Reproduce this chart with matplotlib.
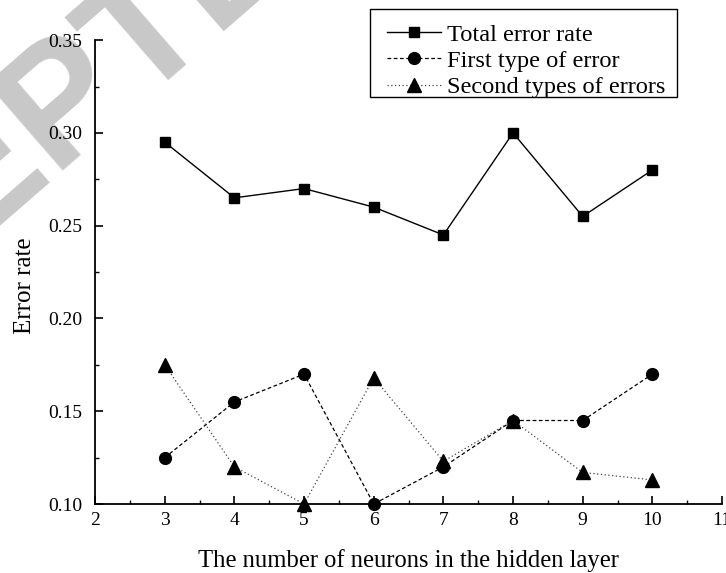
import matplotlib.pyplot as plt
from matplotlib.patches import Rectangle
from matplotlib.ticker import MultipleLocator

# Кількість нейронів у прихованому шарі
neurons = [3, 4, 5, 6, 7, 8, 9, 10]

# Частота помилок для кожної конфігурації
total_error = [0.295, 0.265, 0.27, 0.26, 0.245, 0.30, 0.255, 0.28]
first_error = [0.125, 0.155, 0.17, 0.10, 0.12, 0.145, 0.145, 0.17]
second_error = [0.175, 0.12, 0.10, 0.168, 0.123, 0.145, 0.117, 0.113]

plt.rcParams['font.family'] = ['Liberation Serif', 'DejaVu Serif']

fig = plt.figure(figsize=(7.26, 5.73), dpi=100)
ax = fig.add_axes([0.131, 0.1204, 0.8635, 0.8096])
ax.patch.set_alpha(0)

# Водяний знак
fig.text(0.022, 0.735, 'ACCEPTED', family='Liberation Sans', fontweight='bold',
         fontsize=120, color='#c8c8c8', rotation=41, ha='center', va='center',
         rotation_mode='anchor', zorder=-5)

ax.plot(neurons, total_error, color='black', lw=1.0, marker='s', ms=7,
        label='Total error rate', clip_on=False, zorder=3)
ax.plot(neurons, first_error, color='black', lw=0.9, ls=(0, (3, 2)), marker='o', ms=8.5,
        label='First type of error', clip_on=False, zorder=3)
ax.plot(neurons, second_error, color='#444444', lw=0.9, ls=(0, (1, 2)), marker='^', ms=10,
        mfc='black', mec='black', label='Second types of errors', clip_on=False, zorder=3)

ax.set_xlim(2, 11)
ax.set_ylim(0.10, 0.35)
ax.xaxis.set_major_locator(MultipleLocator(1))
ax.xaxis.set_minor_locator(MultipleLocator(0.5))
ax.yaxis.set_major_locator(MultipleLocator(0.05))
ax.yaxis.set_minor_locator(MultipleLocator(0.025))
ax.yaxis.set_major_formatter(plt.FormatStrFormatter('%.2f'))

for side in ['top', 'right']:
    ax.spines[side].set_visible(False)
for side in ['left', 'bottom']:
    ax.spines[side].set_linewidth(1.3)

ax.tick_params(which='major', direction='in', length=6, width=1.2, labelsize=14)
ax.tick_params(which='minor', direction='in', length=3, width=1.0)
ax.tick_params(axis='x', which='major', pad=6)
ax.tick_params(axis='y', which='major', pad=9)

ax.set_xlabel('The number of neurons in the hidden layer', fontsize=17.7)
ax.set_ylabel('Error rate', fontsize=18)
ax.xaxis.set_label_coords(0.5, -0.097)
ax.yaxis.set_label_coords(-0.094, 0.47)

# Легенда без власної рамки, рамка малюється окремо
leg = ax.legend(loc='upper left', bbox_to_anchor=(0.533, 0.959), bbox_transform=fig.transFigure,
                borderaxespad=0, fontsize=17.6, frameon=False, handlelength=2.2,
                handletextpad=0.24, labelspacing=0.17, borderpad=0)
fig.add_artist(Rectangle((370 / 726, 1 - 97 / 573), 307 / 726, 88 / 573,
                         transform=fig.transFigure, fill=False, ec='black', lw=1.0))

fig.savefig('out.png', dpi=100)
